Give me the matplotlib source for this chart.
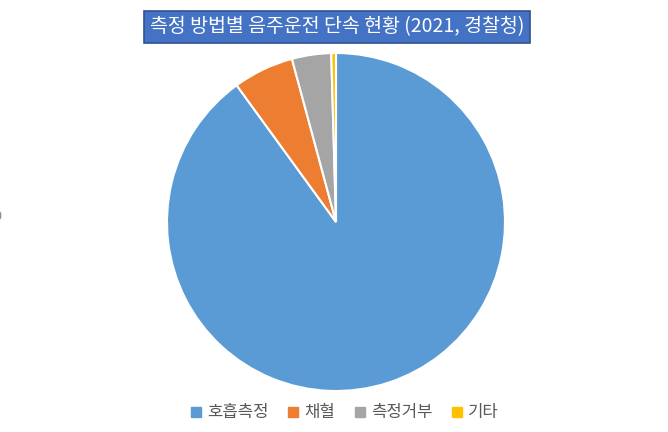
import matplotlib
matplotlib.use("Agg")
import matplotlib.pyplot as plt
from matplotlib.lines import Line2D

plt.rcParams['font.family'] = ['Noto Sans CJK KR', 'DejaVu Sans']

# 측정 방법별 단속 비율 (%)
labels = ["호흡측정", "채혈", "측정거부", "기타"]
values = [90.0, 5.8, 3.75, 0.45]
colors = ["#5B9BD5", "#ED7D31", "#A5A5A5", "#FFC000"]
title = "측정 방법별 음주운전 단속 현황 (2021, 경찰청)"

W, H = 668, 432
fig = plt.figure(figsize=(W / 100, H / 100), dpi=100)

# 파이 영역 (픽셀 기준: 중심 336,222 반지름 169)
cx, cy, r = 336, 222, 169
ax = fig.add_axes([(cx - r) / W, (H - cy - r) / H, 2 * r / W, 2 * r / H])
ax.pie(values, colors=colors, startangle=90, counterclock=False,
       wedgeprops={"edgecolor": "white", "linewidth": 1.5})
ax.set_xlim(-1, 1)
ax.set_ylim(-1, 1)
ax.set_aspect("equal")
ax.axis("off")

# 제목 (파란 상자)
fig.text(337 / W, 1 - 27 / H, title, ha="center", va="center",
         fontsize=14, color="white",
         bbox={"boxstyle": "square,pad=0.28", "facecolor": "#4472C4",
               "edgecolor": "#2F528F", "linewidth": 1.2})

# 왼쪽 잘린 라벨
fig.text(-6 / W, 1 - 216 / H, "0", ha="left", va="center",
         fontsize=9, color="#808080")

# 범례
handles = [Line2D([], [], marker="s", linestyle="", markersize=6.5,
                  markerfacecolor=c, markeredgecolor=c) for c in colors]
fig.legend(handles, labels, loc="center", bbox_to_anchor=(345 / W, 1 - 413 / H),
           ncol=4, frameon=False, fontsize=12, handlelength=0.6,
           handletextpad=0.35, columnspacing=1.2, labelcolor="#595959")

fig.savefig("out.png", dpi=100)
